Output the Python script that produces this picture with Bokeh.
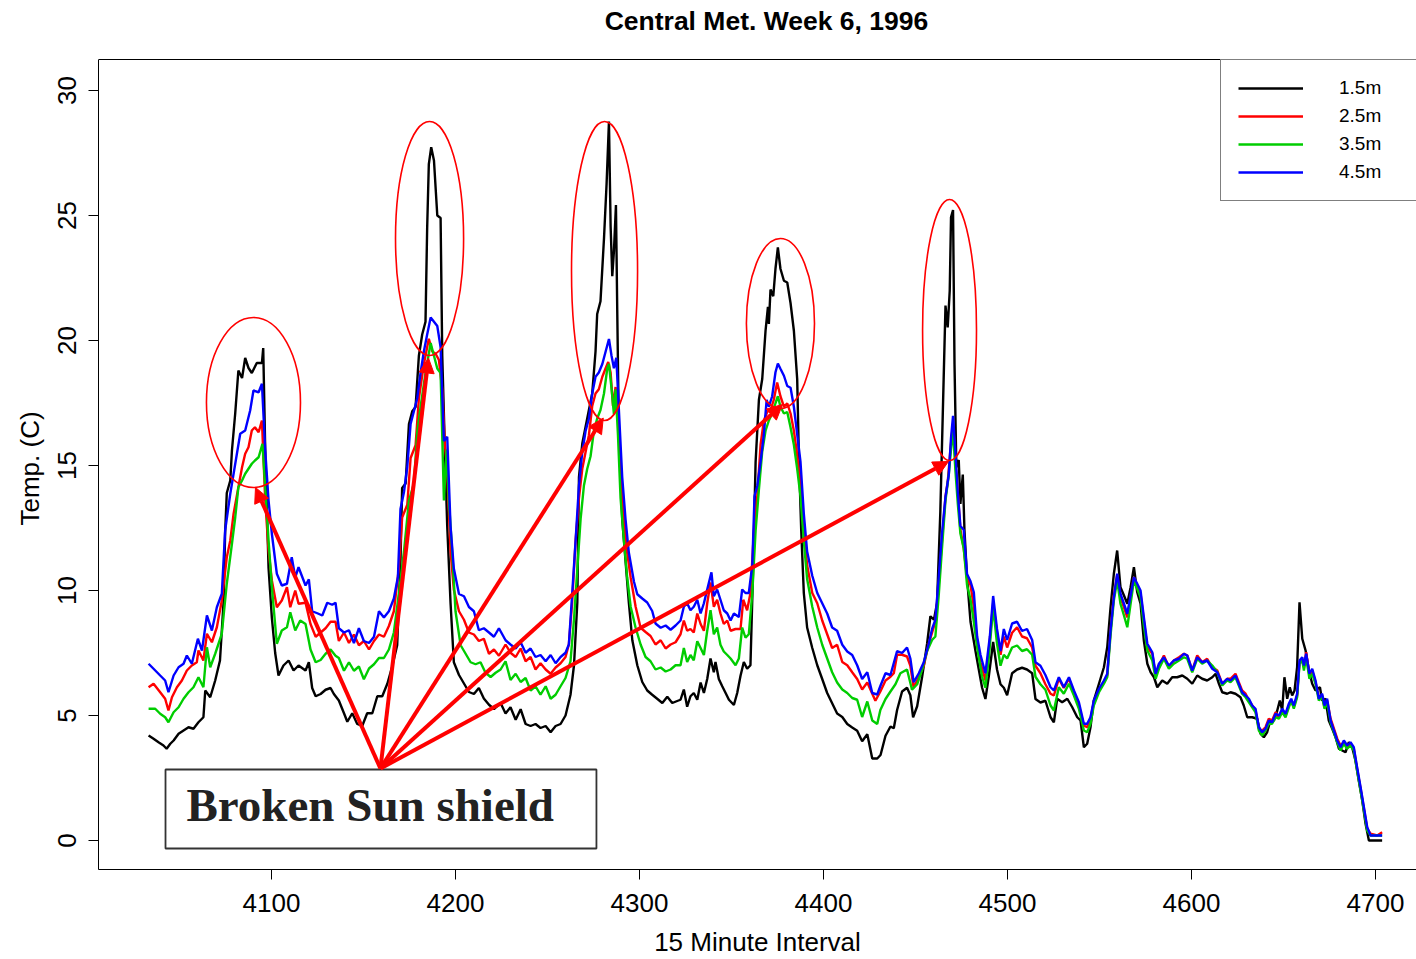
import math
from bokeh.plotting import figure
from bokeh.models import (Range1d, FixedTicker, Legend, LegendItem, Arrow,
                          NormalHead, BoxAnnotation, Label, Span, Title)
from bokeh.embed import file_html
from bokeh.resources import INLINE

# ---------------- data (15 minute interval, temperature in C) ----------------
x_15 = ([4033.2,4035.9,4038.6,4041.3,4043.0,4045.0,4046.8,4049.5,4052.2,4054.9,4057.6,4060.3,4063.0,4064.0,4066.7,4069.4,4072.0,4074.0,4074.8,4075.7,4077.6,4078.5,4080.3,4082.0,4084.0,4085.7,4087.5,4089.3,4092.0,4094.8,4095.5,4096.6,4098.4,4100.2,4102.0,4103.8,4106.5,4109.3,4112.0,4114.7]
        + [4118.5,4120.3,4122.1,4124.0,4126.7,4129.4,4132.1,4133.9,4136.6,4139.4,4141.2,4143.9,4146.6,4149.3,4152.0,4154.8,4157.5,4160.2,4163.0,4165.6,4168.3,4170.1,4171.0,4172.9,4174.7,4176.5,4178.3,4180.1,4181.9,4183.7,4184.6,4185.5,4186.8,4188.3,4190.1,4191.9,4192.8,4194.1,4195.5,4197.3,4199.1,4201.9,4204.6,4207.3,4210.0,4212.7,4215.4,4218.2,4220.9]
        + [4224.5,4227.2,4229.9,4232.7,4235.4,4238.1,4240.8,4243.5,4246.2,4249.0,4251.7,4254.4,4257.1,4259.8,4262.5,4264.4,4266.2,4267.1,4268.9,4270.7,4272.5,4274.3,4276.1,4277.0,4278.8,4280.7,4282.1,4283.4,4284.3,4285.2,4286.1,4287.2,4287.9,4288.8,4290.6,4292.4,4294.2,4296.1,4298.8,4301.5,4304.2,4306.9,4309.6,4312.4,4315.1,4317.8,4320.5]
        + [4322.3,4324.1,4325.9,4327.7,4329.5,4331.4,4333.2,4335.0,4336.8,4338.6,4340.4,4341.3,4343.1,4344.9,4346.8,4348.6,4351.3,4353.1,4354.9,4356.7,4358.5,4360.3,4361.8,4363.1,4364.9,4366.7,4368.5,4369.8,4370.3,4371.2,4372.7,4373.9,4375.2,4376.6,4378.5,4380.3,4382.1,4383.9,4385.7,4386.6,4387.9,4389.3,4391.1,4393.9,4396.6,4399.3,4402.0,4404.7,4407.4,4410.2,4412.9,4415.6,4418.3,4421.0,4423.8,4426.5,4429.2,4431.0]
        + [4433.7,4436.4,4438.2,4440.0,4442.7,4445.4,4447.2,4448.7,4450.9,4453.6,4456.3,4458.1,4460.0,4461.7,4463.5,4465.0,4466.3,4467.5,4468.6,4469.3,4470.4,4471.2,4472.2,4473.5,4474.4,4475.7,4476.6,4478.0,4479.9,4482.6,4484.4,4486.2,4488.0,4489.8,4492.2,4494.3,4496.2,4498.0,4499.8,4502.5,4505.2,4507.9,4510.6,4513.4,4515.2,4517.9,4520.6]
        + [4523.4,4525.2,4527.0,4529.7,4532.5,4535.2,4537.9,4539.7,4541.5,4543.3,4545.1,4546.9,4549.7,4552.4,4554.2,4556.0,4557.8,4559.6,4561.4,4563.3,4565.1,4566.9,4568.7,4570.5,4572.3,4574.1,4576.0,4577.8,4579.6,4581.4,4584.1,4586.8,4589.5,4592.2,4595.0,4597.7,4600.4,4603.1,4605.8,4608.5,4611.3,4613.1,4614.9,4616.7,4619.4]
        + [4621.2,4623.9,4626.6,4628.4,4630.3,4633.0,4635.7,4637.5,4639.3,4641.1,4642.9,4644.8,4646.6,4648.0,4649.3,4650.5,4652.0,4653.4,4654.7,4656.0,4657.4,4658.7,4660.2,4662.0,4663.8,4665.6,4667.4,4669.8,4671.0,4672.8,4674.6,4676.5,4678.3,4680.1,4681.9,4683.7,4685.5,4687.3,4689.1,4690.9,4692.8,4694.6,4696.4,4700.0,4703.6])
t_15 = ([4.20,4.07,3.93,3.80,3.67,3.87,4.00,4.27,4.40,4.53,4.47,4.73,4.93,6.00,5.73,6.40,7.20,9.60,12.3,13.9,14.4,15.6,17.1,18.8,18.5,19.3,18.9,18.7,19.1,19.1,19.7,15.6,10.9,8.90,7.50,6.60,7.00,7.20,6.80,7.00]
        + [6.80,7.13,6.10,5.77,5.86,6.03,6.10,5.86,5.60,5.09,4.75,5.09,4.66,4.58,5.09,5.09,5.77,5.77,6.28,6.96,7.81,11.2,14.1,14.28,16.66,17.17,17.34,19.39,20.24,20.75,24.5,27.05,27.73,27.2,25.0,24.9,19.39,15.98,12.58,9.51,7.13,6.62,6.28,5.94,5.86,6.10,5.68,5.43,5.26]
        + [5.50,5.08,5.33,4.83,5.25,4.66,4.58,4.66,4.50,4.58,4.33,4.58,4.66,5.00,5.83,7.01,9.52,14.54,15.88,16.55,17.22,17.88,19.56,21.06,21.57,24.08,26.25,28.76,24.58,22.57,23.57,25.42,21.23,16.21,12.86,11.19,9.52,8.01,7.01,6.34,6.00,5.83,5.67,5.50,5.75,5.50,5.58]
        + [5.63,6.04,5.35,5.77,5.90,5.63,6.32,5.90,6.46,7.28,6.73,7.14,6.46,6.18,5.90,5.63,5.42,5.90,6.59,7.14,6.87,7.01,11.01,15.14,17.63,18.46,20.39,21.35,20.66,22.04,21.77,22.87,23.72,22.87,22.39,22.32,21.49,20.39,18.46,15.42,12.39,9.90,8.52,7.70,7.01,6.46,5.90,5.49,5.08,4.94,4.66,4.52,4.39,3.97,4.25,3.28,3.28,3.42]
        + [4.19,4.56,4.49,5.22,5.96,6.11,5.81,4.93,5.37,6.55,7.87,8.97,8.83,9.49,13.16,17.58,21.40,20.52,21.99,24.93,25.22,19.05,14.93,15.22,13.46,14.64,12.43,10.52,8.75,7.58,6.84,6.11,5.66,6.55,7.94,6.84,6.25,6.11,5.81,6.69,6.84,6.91,6.84,6.69,5.66,5.52,5.59]
        + [4.93,4.73,5.67,5.53,5.67,5.33,4.93,4.80,3.73,3.87,4.53,5.60,6.27,6.93,7.73,9.33,10.67,11.60,10.13,9.80,9.47,10.13,10.93,9.93,9.47,8.00,7.07,6.73,6.53,6.13,6.40,6.27,6.53,6.53,6.60,6.47,6.27,6.60,6.47,6.40,6.53,6.67,6.27,5.93,5.87]
        + [5.93,5.87,5.73,5.40,4.93,4.93,4.87,4.27,4.13,4.33,4.80,4.80,5.20,5.60,5.20,6.53,5.67,6.13,5.80,6.00,6.93,9.53,8.07,7.60,6.80,6.27,6.00,6.13,5.60,5.67,4.80,4.47,4.13,3.67,3.60,3.53,3.93,3.73,3.20,2.40,1.60,0.67,0.00,0.00,0.00])

x_25 = ([4033.2,4035.9,4039.5,4042.2,4044.0,4045.9,4048.6,4051.3,4054.0,4056.7,4059.4,4060.3,4063.0,4064.9,4067.6,4070.3,4073.0,4075.7,4077.6,4079.4,4082.0,4084.0,4085.7,4087.5,4089.3,4091.0,4093.0,4094.8,4096.6,4098.4,4100.2,4102.9,4105.6,4108.4,4110.2,4112.9,4114.7]
        + [4118.5,4121.2,4124.0,4126.7,4129.4,4132.1,4134.8,4136.6,4139.4,4142.1,4144.8,4147.5,4150.2,4153.0,4155.7,4158.4,4161.1,4163.8,4166.5,4169.2,4171.0,4173.8,4175.6,4178.3,4180.1,4182.8,4185.5,4187.4,4189.2,4191.0,4192.8,4194.1,4195.5,4197.3,4199.1,4201.9,4204.6,4207.3,4210.0,4212.7,4215.4,4218.2,4220.9,4223.6]
        + [4227.2,4229.9,4232.7,4235.4,4238.1,4240.8,4243.5,4246.2,4249.0,4251.7,4254.4,4257.1,4259.8,4261.6,4263.4,4265.3,4267.1,4268.9,4270.7,4272.5,4274.3,4276.1,4277.9,4279.8,4281.6,4283.0,4284.3,4285.6,4287.0,4288.3,4289.7,4291.5,4293.3,4295.2,4297.9,4300.6,4303.3,4306.0,4308.7,4311.5,4314.2,4316.9,4319.6]
        + [4322.3,4324.1,4325.9,4327.7,4329.5,4331.4,4333.2,4335.0,4336.8,4338.6,4340.4,4342.2,4344.0,4345.8,4347.7,4349.5,4352.2,4354.9,4356.4,4358.5,4360.3,4362.2,4364.0,4365.8,4367.6,4369.4,4371.2,4373.0,4374.8,4376.6,4378.5,4380.3,4382.1,4383.9,4385.7,4387.5,4389.3,4391.1,4393.9,4396.6,4399.3,4402.0,4404.7,4407.4,4410.2,4412.9,4415.6,4418.3,4421.0,4423.8]
        + [4428.2,4430.9,4433.7,4436.4,4438.2,4440.0,4442.7,4445.4,4447.2,4449.0,4451.8,4454.5,4457.2,4459.0,4460.8,4462.6,4464.4,4466.3,4467.5,4469.0,4470.4,4471.7,4473.0,4474.4,4476.2,4478.0,4479.9,4481.7,4483.5,4485.3,4488.0,4489.8,4492.2,4494.3,4496.2,4498.0,4499.8,4502.5,4505.2,4507.9,4510.6,4513.4,4515.2,4517.9,4520.6]
        + [4523.4,4525.2,4527.9,4530.6,4533.4,4536.1,4538.8,4541.5,4543.3,4545.1,4546.9,4549.7,4552.4,4554.2,4556.0,4557.8,4559.6,4561.4,4563.3,4565.1,4566.9,4568.7,4570.5,4572.3,4574.1,4576.0,4578.7,4580.5,4582.3,4585.0,4587.7,4590.4,4593.2,4595.9,4597.7,4600.4,4603.1,4605.8,4608.5,4611.3,4614.0,4616.7,4619.4]
        + [4621.2,4623.9,4625.7,4627.5,4629.4,4631.2,4633.0,4634.8,4636.6,4638.4,4640.2,4642.0,4643.8,4645.7,4647.5,4649.3,4651.1,4652.9,4654.2,4655.6,4657.4,4658.7,4660.2,4661.1,4662.3,4664.1,4665.6,4667.4,4669.2,4671.0,4672.3,4673.7,4675.6,4677.4,4679.2,4681.0,4682.8,4684.6,4686.4,4688.2,4690.0,4691.9,4693.7,4695.5,4697.3,4700.9,4703.6])
t_25 = ([6.13,6.27,5.93,5.67,5.20,5.73,6.13,6.40,6.80,7.00,7.13,7.60,7.20,8.27,7.93,8.53,9.60,11.33,12.00,13.07,14.13,14.93,15.47,15.73,16.40,16.53,16.33,16.80,13.60,11.60,10.40,9.33,9.60,10.13,9.33,10.00,9.47]
        + [9.51,8.66,8.15,8.32,8.49,8.75,8.75,7.98,8.32,7.90,8.24,7.81,7.98,7.64,7.98,8.24,8.15,8.58,9.17,10.88,12.92,13.43,15.30,15.81,17.69,19.05,20.07,19.56,19.47,19.22,18.03,15.98,14.79,11.56,10.03,9.17,8.83,8.32,8.24,7.98,8.07,7.47,7.64,7.39]
        + [7.84,7.51,7.34,7.68,7.17,7.34,6.84,7.09,6.84,6.67,6.92,7.09,7.34,7.84,9.52,12.03,13.70,14.87,15.54,16.21,17.38,17.88,18.05,18.55,18.89,19.14,18.72,17.38,18.14,17.05,14.54,12.86,11.52,10.52,9.35,8.51,8.34,8.18,7.84,8.01,7.68,7.84,7.93]
        + [8.25,8.80,8.39,8.46,8.32,9.08,8.66,8.39,9.49,10.32,9.35,9.63,9.08,8.66,8.80,8.39,8.46,8.46,9.63,9.21,9.90,12.39,13.77,15.83,16.80,17.14,17.21,17.63,18.32,17.77,17.35,17.49,17.08,16.39,15.42,14.32,12.39,11.01,9.90,9.49,8.80,8.25,7.70,7.83,7.14,7.01,6.73,6.46,6.04,6.32]
        + [5.59,5.96,6.40,6.55,6.69,7.43,7.43,7.36,6.99,6.11,6.55,6.99,7.87,8.31,8.75,10.22,11.99,13.75,14.34,15.66,16.69,15.22,13.90,12.43,11.69,10.52,10.22,9.34,7.87,7.13,6.40,7.58,9.49,8.31,7.43,8.16,7.72,8.31,8.53,8.16,8.09,7.72,6.99,6.69,6.25]
        + [5.87,5.80,6.47,6.10,6.47,5.93,5.40,4.60,4.53,4.87,5.53,6.00,6.33,6.60,8.40,9.80,10.60,9.73,9.33,8.93,9.73,10.53,10.20,9.87,8.80,7.73,7.47,6.60,7.00,7.40,6.93,7.20,7.33,7.47,7.40,6.80,7.40,7.13,7.27,6.93,6.80,6.27,6.47]
        + [6.47,6.67,6.33,6.00,5.87,5.60,5.40,5.20,4.47,4.40,4.53,4.87,4.80,5.13,4.93,5.20,5.00,5.40,5.60,5.33,5.80,7.13,7.27,6.93,7.53,6.60,6.80,6.33,5.73,5.80,5.33,5.60,4.87,4.47,4.07,3.80,3.93,3.73,3.87,3.67,2.87,2.07,1.27,0.47,0.27,0.20,0.33])

x_35 = ([4033.2,4036.8,4039.5,4042.2,4044.0,4046.8,4049.5,4052.2,4054.9,4057.6,4060.3,4063.0,4064.9,4066.7,4069.4,4073.0,4075.7,4078.5,4080.3,4082.0,4084.0,4085.7,4087.5,4089.3,4091.0,4093.0,4095.1,4096.6,4098.4,4100.2,4102.9,4105.6,4108.4,4110.2,4112.9,4115.6]
        + [4118.5,4121.2,4124.0,4126.7,4129.4,4132.1,4134.8,4136.6,4139.4,4142.1,4144.8,4147.5,4150.2,4153.0,4155.7,4158.4,4161.1,4163.8,4166.5,4169.2,4172.0,4174.7,4177.4,4179.2,4181.0,4183.7,4186.5,4188.3,4190.1,4191.9,4193.7,4195.2,4196.4,4198.2,4200.0,4202.8,4205.5,4208.2,4210.9,4213.6,4216.3,4219.1,4221.8]
        + [4224.5,4227.2,4229.9,4232.7,4235.4,4238.1,4240.8,4243.5,4246.2,4249.0,4251.7,4254.4,4257.1,4259.8,4262.5,4264.4,4266.2,4268.0,4269.8,4271.6,4273.4,4275.2,4277.0,4278.8,4280.7,4282.5,4283.4,4284.6,4286.1,4287.0,4288.3,4289.7,4291.5,4293.3,4295.2,4297.9,4300.6,4303.3,4306.0,4308.7,4311.5,4314.2,4316.9,4319.6]
        + [4322.3,4324.1,4325.9,4327.7,4329.5,4331.4,4333.2,4335.0,4336.8,4338.6,4340.4,4342.2,4344.0,4345.8,4347.7,4349.5,4352.2,4354.0,4355.8,4357.6,4359.4,4361.3,4363.1,4364.9,4366.7,4368.5,4370.3,4372.1,4373.9,4375.2,4376.6,4378.5,4380.3,4382.1,4383.9,4385.7,4387.5,4389.3,4391.1,4393.9,4396.6,4399.3,4402.0,4404.7,4407.4,4410.2,4412.9,4415.6,4418.3,4421.0,4423.8,4426.5,4429.2]
        + [4430.9,4433.7,4436.4,4439.1,4441.8,4445.4,4448.1,4450.9,4453.6,4456.3,4459.0,4460.8,4462.6,4464.4,4466.3,4468.1,4469.5,4470.4,4471.7,4473.0,4474.4,4476.2,4478.0,4479.9,4481.7,4483.5,4486.2,4488.0,4489.8,4492.2,4494.3,4496.2,4498.0,4499.8,4502.5,4505.2,4507.9,4510.6,4513.4,4515.2,4517.9,4520.6]
        + [4523.4,4525.2,4527.9,4530.6,4533.4,4536.1,4538.8,4541.5,4543.3,4545.1,4546.9,4549.7,4552.4,4554.2,4556.0,4557.8,4559.6,4561.4,4563.3,4565.1,4566.9,4568.7,4570.5,4572.3,4574.1,4576.0,4578.7,4580.5,4582.3,4585.0,4587.7,4590.4,4593.2,4595.9,4597.7,4600.4,4603.1,4605.8,4608.5,4611.3,4614.0,4616.7,4619.4]
        + [4621.2,4623.9,4625.7,4627.5,4629.4,4631.2,4633.0,4634.8,4636.6,4638.4,4640.2,4642.0,4643.8,4645.7,4647.5,4649.3,4651.1,4652.9,4654.2,4655.6,4657.4,4658.7,4660.2,4661.1,4662.3,4664.1,4665.6,4667.4,4669.2,4671.0,4672.3,4673.7,4675.6,4677.4,4679.2,4681.0,4682.8,4684.6,4686.4,4688.2,4690.0,4691.9,4693.7,4695.5,4697.3,4700.9,4703.6])
t_35 = ([5.27,5.27,5.07,4.93,4.73,5.13,5.33,5.67,5.93,6.13,6.53,6.13,7.73,6.93,7.47,8.27,10.27,11.87,12.93,14.13,14.40,14.67,14.87,15.07,15.20,15.33,15.87,14.13,12.00,10.13,7.87,8.40,8.53,9.13,8.40,8.80]
        + [8.66,7.64,7.13,7.22,7.47,7.64,7.39,7.30,6.79,7.13,6.79,6.96,6.45,6.88,7.05,7.30,7.30,7.64,8.32,9.86,11.56,13.60,14.28,16.32,17.34,18.70,19.90,19.39,18.88,18.70,13.60,15.64,13.60,11.56,9.17,7.81,7.47,7.13,7.05,7.13,6.71,6.54,6.71]
        + [6.84,7.17,6.42,6.67,6.34,6.50,6.00,6.17,5.83,6.17,5.67,5.83,6.17,6.50,7.17,8.85,10.86,12.86,14.20,14.87,15.37,16.38,16.88,17.22,17.88,18.89,19.06,18.22,17.05,18.05,16.21,13.70,12.03,10.52,9.35,8.51,7.84,7.34,7.17,6.84,6.92,6.76,6.84,7.01]
        + [7.01,7.70,7.14,7.42,7.21,7.97,7.70,7.42,8.39,9.21,8.25,8.52,7.83,7.56,7.42,7.28,7.01,7.28,8.52,8.11,8.25,9.90,12.39,14.04,15.56,16.39,16.80,17.08,17.49,17.77,17.35,17.08,17.14,16.52,15.83,14.87,13.77,11.97,10.46,9.35,8.52,7.83,7.28,6.73,6.32,6.04,5.90,5.70,5.63,4.94,5.56,4.80,4.66]
        + [5.22,5.66,5.96,6.25,6.69,6.84,6.03,6.25,6.84,7.58,8.02,8.16,9.78,11.69,13.61,14.64,15.81,16.40,14.78,13.46,12.28,11.69,10.22,9.64,8.75,7.72,6.55,6.11,7.28,9.34,7.87,6.99,7.43,7.28,7.72,7.80,7.58,7.65,7.43,6.55,6.25,6.03]
        + [5.40,5.20,6.13,5.87,6.27,5.80,5.27,4.40,4.33,4.67,5.40,5.93,6.27,6.53,8.20,9.60,10.40,9.47,9.00,8.53,9.47,10.40,10.07,9.73,8.60,7.60,7.20,6.47,6.87,7.27,6.87,7.07,7.20,7.33,7.27,6.73,7.27,7.07,7.20,7.00,6.73,6.20,6.40]
        + [6.33,6.53,6.20,5.87,5.73,5.53,5.33,5.13,4.40,4.20,4.40,4.67,4.67,4.93,4.87,5.13,4.93,5.33,5.60,5.27,5.73,7.07,7.20,6.80,7.33,6.47,6.67,6.27,5.60,5.73,5.27,5.53,4.73,4.33,3.93,3.60,3.87,3.67,3.80,3.60,2.80,2.00,1.20,0.40,0.20,0.20,0.20])

x_45 = ([4033.2,4035.9,4039.5,4042.2,4044.0,4046.8,4049.5,4052.2,4054.0,4056.7,4060.0,4062.2,4064.9,4067.6,4070.3,4073.0,4074.8,4077.6,4080.3,4083.0,4085.7,4088.4,4090.2,4093.0,4094.8,4096.6,4098.4,4100.2,4102.9,4105.6,4108.4,4111.0,4112.9,4114.7]
        + [4118.5,4120.3,4122.1,4124.9,4127.6,4130.3,4133.0,4134.8,4136.6,4139.4,4142.1,4144.8,4147.5,4150.2,4153.0,4155.7,4158.4,4161.1,4163.8,4166.5,4168.7,4170.1,4172.0,4173.8,4175.6,4177.4,4179.2,4181.0,4182.8,4184.6,4186.5,4188.3,4190.1,4191.9,4193.7,4195.5,4197.3,4199.1,4201.9,4204.6,4207.3,4210.0,4212.7,4215.4,4218.2,4220.9,4223.6]
        + [4227.2,4229.9,4232.7,4235.4,4238.1,4240.8,4243.5,4246.2,4249.0,4251.7,4254.4,4257.1,4259.8,4261.6,4263.4,4265.3,4267.1,4268.9,4270.7,4272.5,4274.3,4276.1,4277.9,4279.8,4281.6,4283.4,4284.8,4286.1,4287.4,4288.8,4290.6,4292.4,4294.2,4297.0,4298.8,4301.5,4304.2,4306.9,4308.7,4311.5,4314.2,4316.9,4319.6]
        + [4322.3,4324.1,4325.9,4327.7,4329.5,4331.4,4333.2,4335.0,4336.8,4339.1,4340.4,4342.2,4344.0,4345.8,4347.7,4349.5,4351.3,4354.0,4355.8,4357.6,4359.4,4361.3,4362.5,4364.0,4365.8,4367.6,4369.1,4370.3,4372.1,4373.9,4375.2,4376.6,4378.5,4380.3,4382.1,4383.9,4385.7,4387.5,4389.3,4391.1,4393.9,4396.6,4399.3,4402.0,4404.7,4407.4,4410.2,4412.9,4415.6,4418.3,4421.0,4423.8,4426.5,4429.2]
        + [4430.9,4433.7,4436.4,4440.0,4442.7,4445.4,4447.2,4449.0,4451.8,4454.5,4457.2,4459.0,4460.8,4462.6,4464.4,4466.3,4468.1,4469.3,4470.4,4471.7,4473.0,4474.4,4476.2,4478.0,4479.9,4481.7,4483.5,4485.3,4488.0,4490.4,4492.2,4494.3,4496.2,4498.0,4499.8,4502.5,4505.2,4507.9,4510.6,4513.4,4515.2,4517.9,4520.6]
        + [4523.4,4525.2,4527.9,4530.6,4533.4,4536.1,4538.8,4541.5,4543.3,4545.1,4546.9,4549.7,4552.4,4554.2,4556.0,4557.8,4559.6,4561.4,4563.3,4565.1,4566.9,4568.7,4570.5,4572.3,4574.1,4576.0,4578.7,4580.5,4582.3,4585.0,4587.7,4590.4,4593.2,4595.9,4597.7,4600.4,4603.1,4605.8,4608.5,4611.3,4614.0,4616.7,4619.4]
        + [4621.2,4623.9,4625.7,4627.5,4629.4,4631.2,4633.0,4634.8,4636.6,4638.4,4640.2,4642.0,4643.8,4645.7,4647.5,4649.3,4651.1,4652.9,4654.2,4655.6,4657.4,4658.7,4660.2,4661.1,4662.3,4664.1,4665.6,4667.4,4669.2,4671.0,4672.3,4673.7,4675.6,4677.4,4679.2,4681.0,4682.8,4684.6,4686.4,4688.2,4690.0,4691.9,4693.7,4695.5,4697.3,4700.9,4703.6])
t_45 = ([7.07,6.87,6.60,6.40,5.93,6.60,6.93,7.07,7.40,7.07,8.07,7.60,9.00,8.40,9.33,9.87,12.40,13.87,15.07,16.27,16.40,17.20,18.00,17.93,18.27,15.60,13.60,12.27,10.67,10.20,10.27,11.33,10.53,10.93]
        + [10.20,10.45,9.17,9.09,9.00,9.51,9.43,9.51,8.49,8.32,8.41,7.90,8.49,7.98,7.90,8.15,9.17,8.92,9.17,9.68,10.54,13.26,13.94,14.96,16.66,17.17,17.69,18.70,19.56,20.24,20.92,20.75,20.58,19.73,15.98,16.15,12.58,10.88,9.86,9.77,9.34,9.17,8.41,8.49,8.32,8.15,8.49]
        + [8.01,7.84,7.68,7.93,7.51,7.68,7.34,7.42,7.17,7.42,7.09,7.34,7.51,7.84,9.85,12.03,14.20,15.54,16.38,16.88,17.88,18.55,18.72,19.06,19.56,20.06,19.39,18.89,19.31,17.22,14.54,12.86,11.52,10.35,9.85,9.68,9.52,9.18,8.68,8.51,8.60,8.43,8.60]
        + [8.80,9.35,9.49,9.21,9.35,9.63,9.08,9.49,10.04,10.73,9.77,10.04,9.63,9.21,9.08,8.80,9.08,8.94,10.04,9.90,9.90,11.01,13.77,14.18,15.14,16.25,17.63,17.35,17.77,18.73,19.08,18.87,18.59,18.18,18.11,17.35,16.25,15.14,13.08,11.56,10.59,9.90,9.49,9.08,8.52,8.39,7.83,7.56,7.42,7.01,6.46,6.73,5.90,5.84]
        + [6.18,6.69,6.62,7.58,7.50,7.72,7.28,6.33,6.69,7.13,7.87,8.46,8.83,10.52,12.28,13.75,14.64,16.11,16.99,15.52,13.90,12.58,12.43,10.66,10.37,9.93,8.16,7.43,6.69,8.16,9.78,8.46,7.58,8.46,8.02,8.68,8.75,8.38,8.46,8.02,7.13,6.99,6.62]
        + [6.13,6.00,6.53,6.13,6.53,6.00,5.53,4.67,4.67,4.93,5.60,6.07,6.40,6.67,8.40,9.73,10.67,9.87,9.47,9.07,9.80,10.53,10.27,10.00,8.93,7.87,7.53,6.67,7.07,7.33,7.00,7.20,7.27,7.47,7.40,6.80,7.33,7.13,7.20,6.87,6.73,6.27,6.47]
        + [6.40,6.60,6.27,5.93,5.80,5.67,5.40,5.27,4.53,4.33,4.47,4.80,4.73,5.07,5.00,5.27,5.07,5.47,5.67,5.40,5.87,7.20,7.33,7.00,7.47,6.67,6.87,6.40,5.67,5.87,5.40,5.67,4.80,4.40,4.00,3.73,4.00,3.80,3.93,3.73,2.93,2.13,1.33,0.53,0.20,0.20,0.20])

series_labels = ["1.5m", "2.5m", "3.5m", "4.5m"]
series_colors = ["#000000", "#FF0000", "#00CD00", "#0000FF"]
x_ticks = [4100, 4200, 4300, 4400, 4500, 4600, 4700]
y_ticks = [0, 5, 10, 15, 20, 25, 30]
title_text = "Central Met. Week 6, 1996"
x_title = "15 Minute Interval"
y_title = "Temp. (C)"

# extent of the plotting box (data units) and annotation geometry
x_lo, x_hi = 4005.98, 4722.28
y_lo, y_hi = -1.16, 31.24
y_page_top = 33.6
ring_x = [4090.2, 4185.9, 4281.0, 4376.6, 4468.5]
ring_y = [17.52, 24.08, 22.78, 20.68, 20.42]
ring_w = [51.1, 37.0, 35.9, 37.0, 29.3]
ring_h = [6.8, 9.36, 11.96, 6.8, 10.44]
arrow_origin = (4159.2, 2.88)
arrow_tip_x = [4091.3, 4185.3, 4280.3, 4377.7, 4467.9]
arrow_tip_y = [14.12, 19.3, 16.9, 17.44, 15.16]
title_pos = (4369.0, 32.8)

xs = [x_15, x_25, x_35, x_45]
ts = [t_15, t_25, t_35, t_45]
for a, b in zip(xs, ts):
    assert len(a) == len(b), (len(a), len(b))

FONT = "Liberation Sans"

# the frame reaches the top of the page so that the title can sit inside it
p = figure(width=1416, height=959, title=None,
           x_range=Range1d(x_lo, x_hi), y_range=Range1d(y_lo, y_page_top),
           output_backend="svg", toolbar_location=None,
           min_border_left=98, min_border_right=0,
           min_border_top=0, min_border_bottom=89,
           background_fill_color="white", border_fill_color="white")

p.xgrid.grid_line_color = None
p.ygrid.grid_line_color = None
p.outline_line_color = None

for ax in (p.xaxis[0], p.yaxis[0]):
    ax.major_tick_in = 0
    ax.major_tick_out = 10
    ax.minor_tick_line_color = None
    ax.major_tick_line_color = "black"
    ax.axis_line_color = "black"
    ax.axis_line_width = 1
    ax.major_label_text_font = FONT
    ax.major_label_text_font_size = "26px"
    ax.major_label_text_color = "black"
    ax.axis_label_text_font = FONT
    ax.axis_label_text_font_size = "26px"
    ax.axis_label_text_font_style = "normal"
    ax.axis_label_text_color = "black"

p.yaxis.bounds = (y_lo, y_hi)
p.xaxis.ticker = FixedTicker(ticks=x_ticks)
p.yaxis.ticker = FixedTicker(ticks=y_ticks)
p.xaxis.axis_label = x_title
p.xaxis.major_label_standoff = 14
p.xaxis.axis_label_standoff = 12
p.yaxis.major_label_standoff = 13
p.yaxis.major_label_orientation = "parallel"

# y axis title, centred on the plotting box rather than on the whole frame
p.add_layout(Title(text=y_title, align="left", offset=344, standoff=20,
                   text_font=FONT, text_font_size="26px",
                   text_font_style="normal", text_color="black"), "left")

# top edge of the plotting box
p.add_layout(Span(location=y_hi, dimension="width", line_color="black", line_width=1))

renderers = []
for x, t, c in zip(xs, ts, series_colors):
    r = p.line(x, t, line_color=c, line_width=2.4)
    renderers.append(r)

p.ellipse(x=ring_x, y=ring_y, width=ring_w, height=ring_h,
          fill_color=None, line_color="#FF0000", line_width=1.6)

box = BoxAnnotation(left=4042.4, right=4276.6, bottom=-0.32, top=2.84,
                    fill_color="white", fill_alpha=1.0,
                    line_color="#333333", line_alpha=1.0, line_width=1.8)
p.add_layout(box)

for tx, ty in zip(arrow_tip_x, arrow_tip_y):
    p.add_layout(Arrow(end=NormalHead(size=15, fill_color="#FF0000", line_color="#FF0000"),
                       x_start=arrow_origin[0], y_start=arrow_origin[1],
                       x_end=tx, y_end=ty, line_color="#FF0000", line_width=4))

p.add_layout(Label(x=4053.8, y=1.44, text="Broken Sun shield",
                   text_font="Liberation Serif", text_font_style="bold",
                   text_font_size="47px", text_color="#222222",
                   text_baseline="alphabetic"))

p.add_layout(Label(x=title_pos[0], y=title_pos[1], text=title_text,
                   text_font=FONT, text_font_style="bold",
                   text_font_size="26.5px", text_color="black",
                   text_align="center", text_baseline="middle"))

legend = Legend(items=[LegendItem(label=l, renderers=[r]) for l, r in zip(series_labels, renderers)],
                location=(1122, 668), orientation="vertical",
                glyph_width=65, glyph_height=20, label_height=20, label_width=80,
                label_standoff=36, spacing=6, padding=17, margin=0,
                border_line_color="black", border_line_width=1,
                background_fill_color="white", background_fill_alpha=1.0,
                label_text_font=FONT, label_text_font_size="19px",
                label_text_color="black")
p.add_layout(legend)

open("out.html", "w").write(file_html(p, INLINE))
